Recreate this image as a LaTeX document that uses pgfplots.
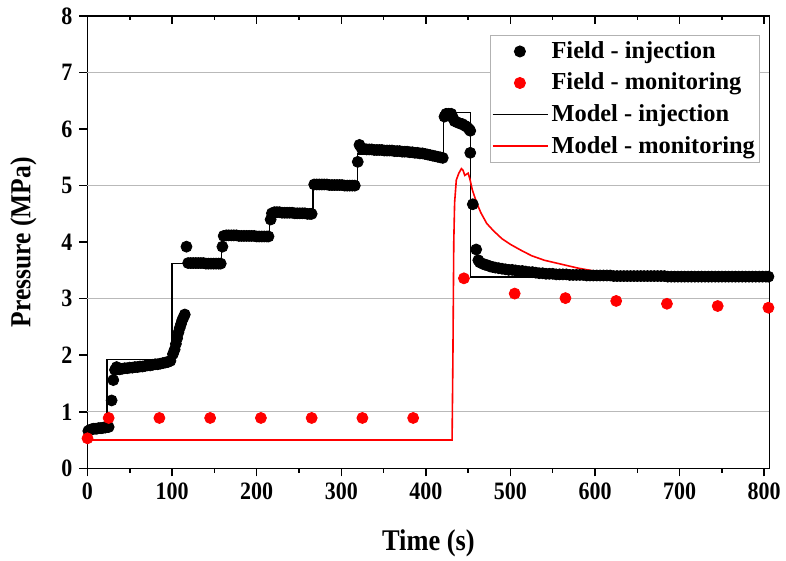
\documentclass[border=0pt]{standalone}
\usepackage{pgfplots}
\pgfplotsset{compat=1.18}
\usepackage{pgfplotstable}
\usepackage{fontspec}
\setmainfont{Liberation Serif}
\newfontfamily\narrowserif{Liberation Serif}[FakeStretch=0.88]

% Field data: injection-well pressure
\pgfplotstableread{
t p
1 0.66
3 0.68
5 0.69
7 0.70
9 0.70
11 0.70
13 0.71
15 0.71
17 0.71
19 0.72
21 0.72
23 0.73
25 0.73
28.5 1.20
30.5 1.56
32.5 1.74
34.5 1.79
36 1.76
38 1.75
41 1.76
44 1.77
47 1.77
50 1.78
53 1.78
56 1.79
59 1.79
62 1.80
65 1.80
68 1.81
71 1.82
74 1.82
77 1.83
80 1.84
83 1.84
86 1.85
89 1.86
92 1.87
95 1.88
98 1.90
101 2.02
103 2.10
104.5 2.20
106 2.30
107.5 2.40
109 2.48
110.5 2.55
112 2.62
113.5 2.67
115 2.72
117 3.92
119 3.63
122 3.63
125 3.63
128 3.63
131 3.63
134 3.63
137 3.63
140 3.62
143 3.62
146 3.62
149 3.62
152 3.62
155 3.62
157.5 3.62
159.5 3.92
161 4.11
164 4.12
167 4.12
170 4.12
173 4.12
176 4.12
179 4.11
182 4.11
185 4.11
188 4.11
191 4.11
194 4.11
197 4.11
200 4.10
203 4.10
206 4.10
209 4.10
212 4.10
214 4.10
216.5 4.40
218 4.51
221 4.53
224 4.53
227 4.53
230 4.52
233 4.52
236 4.52
239 4.52
242 4.52
245 4.51
248 4.51
251 4.51
254 4.51
257 4.51
260 4.50
263 4.50
265 4.50
268 5.02
271 5.02
274 5.02
277 5.02
280 5.02
283 5.02
286 5.01
289 5.01
292 5.01
295 5.01
298 5.01
301 5.01
304 5.00
307 5.00
310 5.00
313 5.00
316 5.00
319.5 5.42
321.5 5.72
324 5.66
327 5.65
330 5.64
333 5.64
336 5.64
339 5.63
342 5.63
345 5.63
348 5.63
351 5.62
354 5.62
357 5.62
360 5.62
363 5.61
366 5.61
369 5.61
372 5.60
375 5.60
378 5.60
381 5.59
384 5.59
387 5.58
390 5.58
393 5.57
396 5.57
399 5.56
402 5.55
405 5.54
408 5.53
411 5.52
414 5.51
417 5.50
420 5.49
422 6.22
424 6.27
427 6.27
430 6.27
432 6.20
434 6.14
437 6.12
440 6.10
443 6.09
446 6.06
448.5 6.04
451 6.00
452.5 5.97
452.5 5.58
455.5 4.67
459.5 3.87
462 3.68
464 3.64
467 3.62
470 3.60
473 3.59
476 3.57
479 3.56
482 3.55
486 3.54
490 3.53
494 3.52
498 3.51
502 3.51
506 3.50
510 3.49
514 3.49
518 3.48
522 3.47
526 3.47
530 3.46
534 3.45
538 3.45
542 3.44
546 3.44
550 3.44
554 3.43
558 3.43
562 3.43
566 3.43
570 3.42
574 3.42
578 3.42
582 3.42
586 3.42
590 3.41
594 3.41
598 3.41
602 3.41
606 3.41
610 3.41
614 3.41
618 3.41
622 3.40
626 3.40
630 3.40
634 3.40
638 3.40
642 3.40
646 3.40
650 3.40
654 3.40
658 3.40
662 3.40
666 3.40
670 3.40
674 3.40
678 3.40
682 3.40
686 3.39
690 3.39
694 3.39
698 3.39
702 3.39
706 3.39
710 3.39
714 3.39
718 3.39
722 3.39
726 3.39
730 3.39
734 3.39
738 3.39
742 3.39
746 3.39
750 3.39
754 3.39
758 3.39
762 3.39
766 3.39
770 3.39
774 3.39
778 3.39
782 3.39
786 3.39
790 3.39
794 3.39
798 3.39
802 3.39
805 3.39
}\fieldinj

% Field data: monitoring-well pressure
\pgfplotstableread{
t p
0 0.53
25 0.89
85 0.89
145 0.89
205 0.89
265 0.89
325 0.89
385 0.89
445 3.36
505 3.09
565 3.01
625 2.96
685 2.91
745 2.87
805 2.84
}\fieldmon

% Model: injection-well pressure
\pgfplotstableread{
t p
0 0.70
23 0.70
23 1.92
100 1.92
100 3.62
158.7 3.62
158.7 4.10
215 4.10
215 4.51
266.5 4.51
266.5 5.01
319 5.01
319 5.56
420.8 5.56
420.8 6.29
453 6.29
453 3.38
806 3.38
}\modelinj

% Model: monitoring-well pressure
\pgfplotstableread{
t p
0 0.50
431 0.50
432 2.00
433 4.00
434 4.70
436 5.10
439 5.22
442 5.30
444 5.27
446 5.18
448 5.20
450 5.22
452 5.12
455 4.92
460 4.70
465 4.52
472 4.33
480 4.20
490 4.06
500 3.96
512 3.86
525 3.76
540 3.68
560 3.61
580 3.54
606 3.47
630 3.45
660 3.43
700 3.41
750 3.39
806 3.37
}\modelmon

\begin{document}
\begin{tikzpicture}
\begin{axis}[
  name=main,
  scale only axis,
  width=340.9pt, height=226.15pt,
  xmin=0, xmax=806, ymin=0, ymax=8,
  xtick={0,100,...,800},
  minor xtick={50,150,...,750},
  ytick={0,1,...,8},
  xtick pos=bottom, ytick pos=left,
  tick align=outside,
  major tick length=4pt, minor tick length=2.2pt,
  tick style={black, line width=0.75pt},
  axis line style={line width=0.75pt},
  /pgf/number format/assume math mode=true,
  tick label style={font=\narrowserif\fontsize{12.5}{14}\selectfont\bfseries},
  extra y ticks={1,3,5,7},
  extra y tick labels={},
  extra y tick style={grid=major, major grid style={draw=gray!55, line width=0.6pt}, major tick length=0pt},
  xlabel={Time (s)},
  ylabel={Pressure (MPa)},
  xlabel style={font=\narrowserif\fontsize{15}{17}\selectfont\bfseries,
    at={(axis description cs:0.5,-0.166)}, anchor=center},
  ylabel style={font=\narrowserif\fontsize{14.5}{17}\selectfont\bfseries,
    at={(axis description cs:-0.094,0.5)}, anchor=center},
  legend style={
    at={(axis description cs:1,1)}, anchor=north east,
    xshift=-4.65pt, yshift=-9.5pt,
    draw=gray!60, fill=white, line width=0.5pt,
    font=\fontsize{12.2}{14}\selectfont\bfseries,
    nodes={inner xsep=1.5pt, inner ysep=1.5pt},
    row sep=2.8pt, inner xsep=0.8pt, inner ysep=1.5pt,
    cells={anchor=west},
  },
  legend image code/.code={%
    \draw[mark repeat=2, mark phase=2] plot coordinates {(0cm,0cm) (0.48cm,0cm) (0.97cm,0cm)};},
]
\addplot[only marks, mark=*, mark size=2.75pt, black] table[x=t, y=p] {\fieldinj};
\addlegendentry{Field - injection}
\addplot[only marks, mark=*, mark size=2.75pt, red, mark options={fill=red, draw=red}] table[x=t, y=p] {\fieldmon};
\addlegendentry{Field - monitoring}
\addplot[black, line width=0.75pt, mark=none] table[x=t, y=p] {\modelinj};
\addlegendentry{Model - injection}
\addplot[red, line width=0.8pt, mark=none] table[x=t, y=p] {\modelmon};
\addlegendentry{Model - monitoring}
\end{axis}
% inward ticks along the top edge
\begin{axis}[
  scale only axis,
  width=340.9pt, height=226.15pt,
  xmin=0, xmax=806, ymin=0, ymax=8,
  axis x line*=top, axis y line=none,
  xtick={0,100,...,800},
  minor xtick={50,150,...,750},
  xticklabels={},
  tick align=inside,
  major tick length=4pt, minor tick length=2.2pt,
  tick style={black, line width=0.75pt},
  axis line style={line width=0.75pt},
]
\end{axis}
\pgfresetboundingbox
\path[use as bounding box] ([shift={(-43.75pt,-46.35pt)}]main.south west) rectangle ([shift={(8.35pt,8pt)}]main.north east);
\end{tikzpicture}
\end{document}
